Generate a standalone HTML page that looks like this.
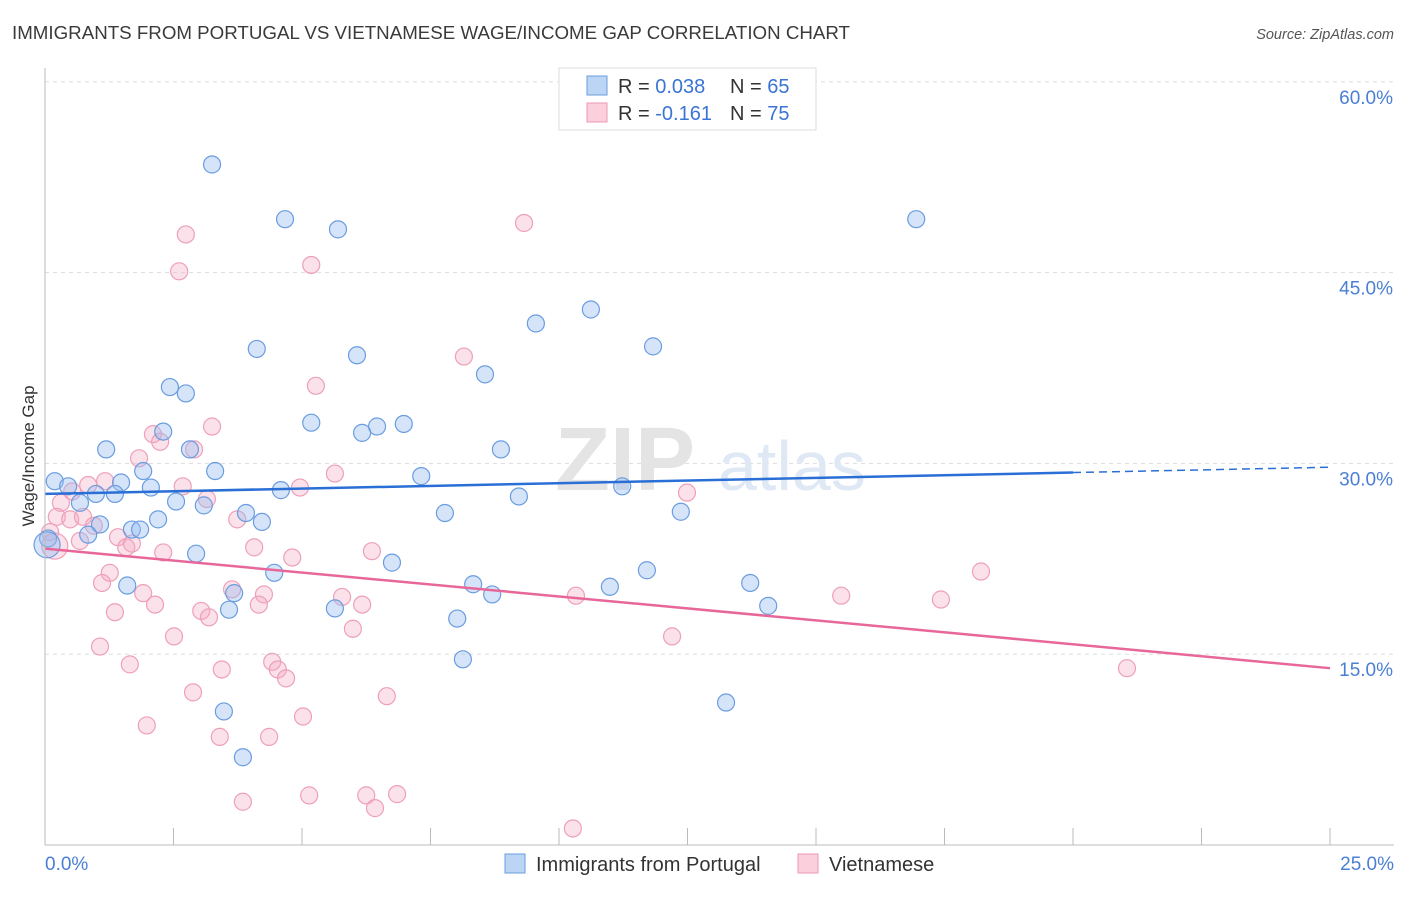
<!DOCTYPE html>
<html><head><meta charset="utf-8"><style>
body{margin:0;background:#fff;font-family:"Liberation Sans",sans-serif}
svg text{font-family:"Liberation Sans",sans-serif}
</style></head><body>
<svg id="chart" width="1406" height="892">
<text x="12" y="39" font-size="18" fill="#3a3a3a" textLength="838" lengthAdjust="spacingAndGlyphs">IMMIGRANTS FROM PORTUGAL VS VIETNAMESE WAGE/INCOME GAP CORRELATION CHART</text>
<text x="1394" y="39" font-size="14.5" fill="#555" font-style="italic" text-anchor="end">Source: ZipAtlas.com</text>
<g id="grid"></g>
<g><text x="555" y="490" font-size="90" fill="#e4e4e4" font-family="Liberation Serif" font-weight="bold">ZIP</text><text x="718" y="490" font-size="70" fill="#dfe8f5">atlas</text></g>
<g id="points"></g>
<g id="lines"></g>
<g id="axes"></g>
<text transform="translate(34,456) rotate(-90)" font-size="17" fill="#333" text-anchor="middle">Wage/Income Gap</text>
<g>
<rect x="559" y="68" width="257" height="62" fill="#fff" stroke="#ddd"/>
<rect x="587" y="76" width="20" height="19" fill="#bcd5f5" stroke="#6a9de0"/>
<rect x="587" y="103" width="20" height="19" fill="#fbcfdc" stroke="#ee9ab5"/>
<text x="618" y="93" font-size="20" fill="#333">R = <tspan fill="#3b74d4">0.038</tspan></text>
<text x="730" y="93" font-size="20" fill="#333">N = <tspan fill="#3b74d4">65</tspan></text>
<text x="618" y="120" font-size="20" fill="#333">R = <tspan fill="#3b74d4">-0.161</tspan></text>
<text x="730" y="120" font-size="20" fill="#333">N = <tspan fill="#3b74d4">75</tspan></text>
</g>
<g>
<rect x="505" y="854" width="20" height="19" fill="#bcd5f5" stroke="#6a9de0"/>
<text x="536" y="871" font-size="20" fill="#333">Immigrants from Portugal</text>
<rect x="798" y="854" width="20" height="19" fill="#fbcfdc" stroke="#ee9ab5"/>
<text x="829" y="871" font-size="20" fill="#333">Vietnamese</text>
</g>
</svg>
<script>
const blueX=[3.25,4.67,5.70,16.95,10.62,9.55,4.12,6.07,11.83,8.56,2.43,2.74,5.18,6.98,6.46,6.17,2.30,2.82,1.19,8.87,1.91,3.31,7.32,0.19,0.45,1.48,2.06,0.99,1.36,4.59,11.23,9.22,2.55,3.09,0.68,7.78,3.91,2.20,4.22,12.37,1.07,0.84,1.69,1.85,0.06,2.94,6.75,4.46,11.71,1.60,8.33,3.68,10.99,13.72,8.70,3.58,5.64,14.07,8.02,8.13,3.48,13.25,3.85,0.04];
const blueY=[53.5,49.2,48.4,49.2,42.1,41.0,39.0,38.5,39.2,37.0,36.0,35.5,33.2,33.1,32.9,32.4,32.5,31.1,31.1,31.1,29.4,29.4,29.0,28.6,28.2,28.5,28.1,27.6,27.6,27.9,28.2,27.4,27.0,26.7,26.9,26.1,26.1,25.6,25.4,26.2,25.2,24.4,24.8,24.8,24.1,22.9,22.2,21.4,21.6,20.4,20.5,19.8,20.3,20.6,19.7,18.5,18.6,18.8,17.8,14.6,10.5,11.2,6.9,23.6];
const pinkX=[9.32,2.74,2.61,5.18,8.15,5.27,3.25,2.10,2.24,2.90,1.83,5.64,1.17,0.84,2.68,4.96,3.15,12.49,0.53,0.31,0.23,0.49,0.74,0.95,3.74,1.42,1.69,1.58,0.68,2.30,4.07,6.36,4.81,0.10,1.26,1.11,1.91,3.64,4.26,5.78,10.33,15.49,17.43,18.21,2.14,1.36,3.04,4.16,6.17,3.19,5.99,12.20,2.51,1.07,1.65,4.42,4.53,3.44,4.69,2.88,6.65,5.02,1.98,3.40,4.36,3.85,5.14,6.25,6.85,6.42,10.27,21.05,0.19];
const pinkY=[48.9,48.0,45.1,45.6,38.4,36.1,32.9,32.3,31.7,31.1,30.4,29.2,28.6,28.3,28.2,28.1,27.2,27.7,27.8,26.9,25.8,25.6,25.8,25.1,25.6,24.2,23.7,23.4,23.9,23.0,23.4,23.1,22.6,24.6,21.4,20.6,19.8,20.1,19.7,19.5,19.6,19.6,19.3,21.5,18.9,18.3,18.4,18.9,18.9,17.9,17.0,16.4,16.4,15.6,14.2,14.4,13.8,13.8,13.1,12.0,11.7,10.1,9.4,8.5,8.5,3.4,3.9,3.9,4.0,2.9,1.3,13.9,23.5];
const blueTrend=[27.6,29.7];
const pinkTrend=[23.3,13.9];
const yTicks=[15,30,45,60];
const xTickVals=[0,2.5,5,7.5,10,12.5,15,17.5,20,22.5,25];
const xLabels=["0.0%","25.0%"];

const NS="http://www.w3.org/2000/svg";
const sx=v=>45+v/25*1285;
const sy=v=>845-v*12.72;
function mk(tag,attrs,parent){const e=document.createElementNS(NS,tag);for(const k in attrs)e.setAttribute(k,attrs[k]);parent.appendChild(e);return e;}
const grid=document.getElementById('grid'),pts=document.getElementById('points'),lines=document.getElementById('lines'),axes=document.getElementById('axes');
yTicks.forEach(t=>{
  const l=mk('line',{x1:45,x2:1394,y1:sy(t),y2:sy(t),stroke:'#ddd','stroke-dasharray':'4,4'},grid);
  
  
  const tx=mk('text',{x:1393,y:sy(t)+22,'font-size':19,fill:'#4a7fd4','text-anchor':'end'},axes);
  tx.textContent=t.toFixed(1)+'%';
  
  
});
const ax=mk('line',{x1:45,x2:1394,y1:845,y2:845,stroke:'#bbb'},axes);


const ay=mk('line',{x1:45,x2:45,y1:68,y2:845,stroke:'#bbb'},axes);


xTickVals.forEach(t=>{
  const l=mk('line',{x1:sx(t),x2:sx(t),y1:828,y2:845,stroke:'#bbb'},axes);
  
  
});
[[0,'start',45],[25,'end',1394]].forEach((a,i)=>{
  const tx=mk('text',{x:a[2],y:870,'font-size':19,fill:'#4a7fd4','text-anchor':a[1]},axes);
  tx.textContent=xLabels[i];
  
  
});
function drawPts(X,Y,fill,stroke,name){
  X.forEach((x,i)=>{
    const big=(i===X.length-1&&x<0.25);
    const c=mk('circle',{cx:sx(x),cy:sy(Y[i]),r:big?13:8.5,fill:fill,stroke:stroke,'stroke-width':1.2},pts);
    
    
  });
}
drawPts(pinkX,pinkY,'rgba(244,170,195,0.35)','#eea0b9','vietnamese-point');
drawPts(blueX,blueY,'rgba(150,188,240,0.4)','#6a9de0','portugal-point');
const bAt=x=>blueTrend[0]+(blueTrend[1]-blueTrend[0])*x/25;
const pAt=x=>pinkTrend[0]+(pinkTrend[1]-pinkTrend[0])*x/25;
const b1=mk('line',{x1:sx(0),y1:sy(bAt(0)),x2:sx(20),y2:sy(bAt(20)),stroke:'#2a6fd6','stroke-width':2.5},lines);


const b2=mk('line',{x1:sx(20),y1:sy(bAt(20)),x2:sx(25),y2:sy(bAt(25)),stroke:'#2a6fd6','stroke-width':1.5,'stroke-dasharray':'8,5'},lines);


const p1=mk('line',{x1:sx(0),y1:sy(pAt(0)),x2:sx(25),y2:sy(pAt(25)),stroke:'#e8679a','stroke-width':2.5},lines);


</script>
</body></html>
